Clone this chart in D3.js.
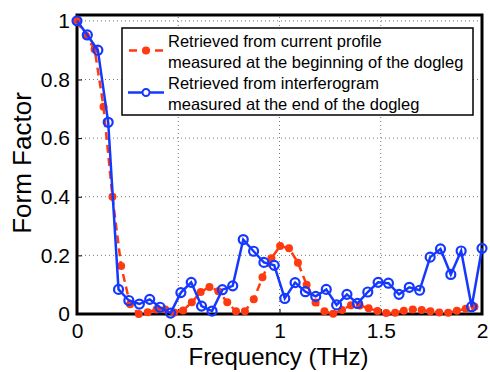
<!DOCTYPE html>
<html>
<head>
<meta charset="utf-8">
<script src="https://cdn.jsdelivr.net/npm/d3@7"></script>
<style>
  body { margin: 0; background: #fff; }
  svg { font-family: "Liberation Sans", Arial, sans-serif; }
</style>
</head>
<body>
<div id="chart"></div>
<script>
// current profile (red, dashed with dots)
const profileFreq = [0, 0.044, 0.087, 0.131, 0.175, 0.218, 0.262, 0.305, 0.349, 0.393, 0.436, 0.48, 0.524, 0.567, 0.611, 0.654, 0.698, 0.742, 0.785, 0.829, 0.873, 0.916, 0.96, 1.003, 1.047, 1.091, 1.134, 1.178, 1.222, 1.265, 1.309, 1.353, 1.396, 1.44, 1.484, 1.527, 1.571, 1.614, 1.658, 1.702, 1.745, 1.789, 1.833, 1.876, 1.92, 1.963];
const profileFF = [1, 0.949, 0.903, 0.707, 0.40, 0.164, 0.033, 0.0, 0.006, 0.015, 0.015, 0.005, 0.012, 0.04, 0.075, 0.092, 0.078, 0.04, 0.009, 0.009, 0.05, 0.125, 0.19, 0.232, 0.224, 0.175, 0.10, 0.039, 0.009, 0.001, 0.014, 0.03, 0.029, 0.02, 0.01, 0.003, 0.004, 0.011, 0.015, 0.014, 0.009, 0.005, 0.004, 0.011, 0.018, 0.025];

// interferogram (blue, open circles)
const interfFreq = [0, 0.051, 0.103, 0.154, 0.205, 0.256, 0.308, 0.359, 0.41, 0.462, 0.513, 0.564, 0.615, 0.667, 0.718, 0.769, 0.821, 0.872, 0.923, 0.974, 1.026, 1.077, 1.128, 1.179, 1.231, 1.282, 1.333, 1.385, 1.436, 1.487, 1.538, 1.59, 1.641, 1.692, 1.744, 1.795, 1.846, 1.897, 1.949, 2.0];
const interfFF = [1, 0.952, 0.90, 0.654, 0.084, 0.046, 0.034, 0.05, 0.023, 0.003, 0.073, 0.108, 0.027, 0.01, 0.083, 0.096, 0.254, 0.214, 0.176, 0.166, 0.053, 0.107, 0.076, 0.06, 0.084, 0.031, 0.067, 0.036, 0.075, 0.108, 0.105, 0.067, 0.091, 0.081, 0.194, 0.222, 0.135, 0.215, 0.025, 0.224];

const xTicks = [0, 0.5, 1, 1.5, 2];
const yTicks = [0, 0.2, 0.4, 0.6, 0.8, 1];
const legendLabels = [
  ["Retrieved from current profile", "measured at the beginning of the dogleg"],
  ["Retrieved from interferogram", "measured at the end of the dogleg"]
];

const red = "#ff3a10", blue = "#1538ff";
const W = 490, H = 372;
const m = { left: 77, right: 8, top: 15, bottom: 58 };

const svg = d3.select("#chart").append("svg").attr("width", W).attr("height", H);

const x = d3.scaleLinear().domain([0, 2]).range([m.left, W - m.right]);
const y = d3.scaleLinear().domain([0, 1.02]).range([H - m.bottom, m.top]);

// dotted grid
svg.append("g").selectAll("line").data(xTicks.slice(1, -1)).enter().append("line")
  .attr("x1", d => x(d)).attr("x2", d => x(d)).attr("y1", y(0)).attr("y2", m.top)
  .attr("stroke", "#777").attr("stroke-width", 1).attr("stroke-dasharray", "1,3");
svg.append("g").selectAll("line").data(yTicks.slice(1)).enter().append("line")
  .attr("x1", x(0)).attr("x2", x(2)).attr("y1", d => y(d)).attr("y2", d => y(d))
  .attr("stroke", "#777").attr("stroke-width", 1).attr("stroke-dasharray", "1,3");

// axes (ticks inward, labels outside)
const xAxis = svg.append("g").attr("transform", `translate(0,${y(0)})`)
  .call(d3.axisBottom(x).tickValues(xTicks).tickFormat(d3.format("")).tickSizeInner(-5).tickSizeOuter(0).tickPadding(9));
const yAxis = svg.append("g").attr("transform", `translate(${x(0)},0)`)
  .call(d3.axisLeft(y).tickValues(yTicks).tickFormat(d3.format("")).tickSizeInner(-5).tickSizeOuter(0).tickPadding(7));
[xAxis, yAxis].forEach(g => {
  g.select(".domain").remove();
  g.selectAll("line").attr("stroke", "#000").attr("stroke-width", 1);
  g.selectAll("text").attr("font-size", 21).attr("fill", "#000")
    .attr("font-family", "Liberation Sans, Arial, sans-serif");
});

// box
svg.append("rect").attr("x", x(0)).attr("y", m.top)
  .attr("width", x(2) - x(0)).attr("height", y(0) - m.top)
  .attr("fill", "none").attr("stroke", "#000").attr("stroke-width", 3);

// series
const redLine = d3.line().x((d, i) => x(profileFreq[i])).y(d => y(d));
svg.append("path").datum(profileFF).attr("d", redLine)
  .attr("fill", "none").attr("stroke", red).attr("stroke-width", 2.5).attr("stroke-dasharray", "8,5");
svg.append("g").selectAll("circle").data(profileFF).enter().append("circle")
  .attr("cx", (d, i) => x(profileFreq[i])).attr("cy", d => y(d)).attr("r", 4).attr("fill", red);

const blueLine = d3.line().x((d, i) => x(interfFreq[i])).y(d => y(d));
svg.append("path").datum(interfFF).attr("d", blueLine)
  .attr("fill", "none").attr("stroke", blue).attr("stroke-width", 2.5);
svg.append("g").selectAll("circle").data(interfFF).enter().append("circle")
  .attr("cx", (d, i) => x(interfFreq[i])).attr("cy", d => y(d)).attr("r", 4.5)
  .attr("fill", "none").attr("stroke", blue).attr("stroke-width", 2.2);

// axis titles
svg.append("text").attr("x", 278.5).attr("y", 364.5)
  .attr("text-anchor", "middle").attr("font-size", 24).text("Frequency (THz)");
svg.append("text").attr("transform", `translate(30.5,163) rotate(-90)`)
  .attr("text-anchor", "middle").attr("font-size", 26).text("Form Factor");

// legend
const lg = svg.append("g");
lg.append("rect").attr("x", 122).attr("y", 28).attr("width", 351).attr("height", 87)
  .attr("fill", "#fff").attr("stroke", "#000").attr("stroke-width", 1.5);
const rows = [50.5, 92.5];
lg.append("line").attr("x1", 128).attr("x2", 164).attr("y1", rows[0]).attr("y2", rows[0])
  .attr("stroke", red).attr("stroke-width", 2.5).attr("stroke-dasharray", "8,5").attr("stroke-dashoffset", -1);
lg.append("circle").attr("cx", 146).attr("cy", rows[0]).attr("r", 4).attr("fill", red);
lg.append("line").attr("x1", 128).attr("x2", 164).attr("y1", rows[1]).attr("y2", rows[1])
  .attr("stroke", blue).attr("stroke-width", 2.5);
lg.append("circle").attr("cx", 146).attr("cy", rows[1]).attr("r", 3.5)
  .attr("fill", "#fff").attr("stroke", blue).attr("stroke-width", 2);
legendLabels.forEach((pair, k) => {
  pair.forEach((t, j) => {
    lg.append("text").attr("x", 168).attr("y", rows[k] - 3.5 + j * 20.5)
      .attr("font-size", 16.5).text(t);
  });
});
</script>
</body>
</html>
